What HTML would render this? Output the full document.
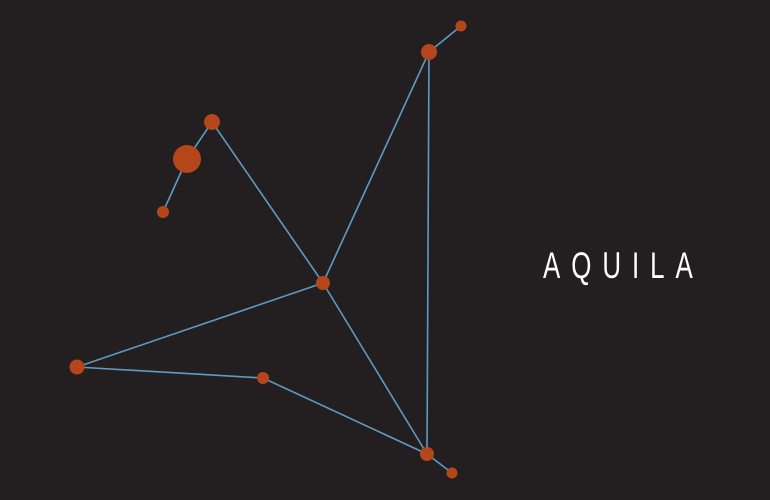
<!DOCTYPE html>
<html><head><meta charset="utf-8"><style>
html,body{margin:0;padding:0;background:#231f20;}
svg{display:block;}
</style></head><body>
<svg id="chart" width="770" height="500" viewBox="0 0 770 500">
<rect x="0" y="0" width="770" height="500" fill="#231f20"/>
<g id="lines"></g>
<g id="stars"></g>
<g transform="translate(543,278) scale(0.7,1)">
<text x="0" y="0" font-family="'Liberation Sans', sans-serif" font-size="37" fill="#ffffff" textLength="214" lengthAdjust="spacing">AQUILA</text>
</g>
</svg>
<script>
const starNames = ['s0','s1','s2','s3','s4','s5','s6','s7','s8','s9'];
const starX = [461,429,212,187,163,323,77,263,427,452];
const starY = [26,52,122,159,212,283,367,378,454,473];
const starR = [5.5,8,8,14,6,7,7.5,6,7,5.5];
const edgeFrom = [0,1,1,2,3,2,5,6,7,5,8];
const edgeTo   = [1,5,8,3,4,5,6,7,8,8,9];
const ns='http://www.w3.org/2000/svg';
const lg=document.getElementById('lines');
const sg=document.getElementById('stars');
for(let i=0;i<edgeFrom.length;i++){
  const a=edgeFrom[i],b=edgeTo[i];
  const l=document.createElementNS(ns,'line');
  l.setAttribute('x1',starX[a]);l.setAttribute('y1',starY[a]);
  l.setAttribute('x2',starX[b]);l.setAttribute('y2',starY[b]);
  l.setAttribute('stroke','#5e9ac2');l.setAttribute('stroke-width','1.6');
  
  
  lg.appendChild(l);
}
for(let i=0;i<starX.length;i++){
  const c=document.createElementNS(ns,'circle');
  c.setAttribute('cx',starX[i]);c.setAttribute('cy',starY[i]);c.setAttribute('r',starR[i]);
  c.setAttribute('fill','#b5461b');
  
  
  sg.appendChild(c);
}
</script>
</body></html>
